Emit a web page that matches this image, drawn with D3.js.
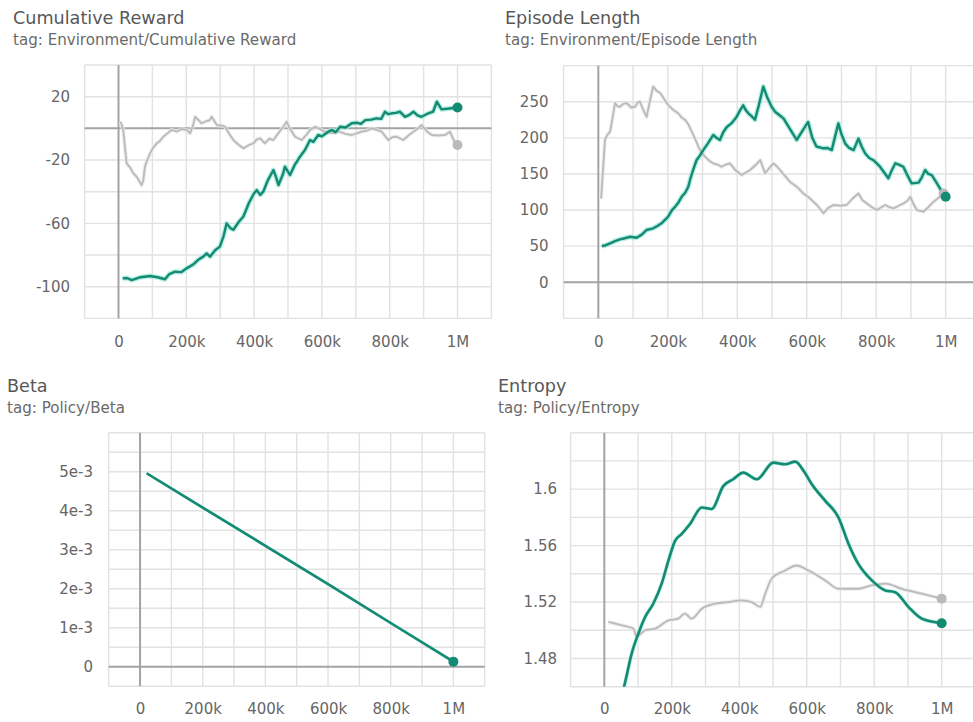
<!DOCTYPE html>
<html>
<head>
<meta charset="utf-8">
<script src="https://cdn.jsdelivr.net/npm/d3@7"></script>
<style>
  html, body { margin: 0; padding: 0; background: #fff; }
  svg { display: block; }
  text { font-family: "DejaVu Sans", "Noto Sans", sans-serif; }
</style>
</head>
<body>
<svg id="board" width="973" height="722"></svg>
<script>
// ---- Cumulative Reward (Environment/Cumulative Reward) ----
const rewardTrain = [
  [12e3,-94.7],[25e3,-94.5],[39e3,-95.8],[65e3,-94],[93e3,-93.2],[115e3,-94],[137e3,-95.3],[150e3,-92],
  [167e3,-90.5],[185e3,-90.8],[201e3,-88.4],[220e3,-86],[235e3,-83],[250e3,-81],[260e3,-79],[270e3,-81],
  [285e3,-77],[299e3,-74.7],[310e3,-68],[319e3,-60],[330e3,-63],[339e3,-64],[355e3,-59],[368e3,-55.8],
  [385e3,-47],[400e3,-41],[408e3,-39],[418e3,-42],[427e3,-40],[440e3,-33],[457e3,-26.3],[465e3,-31],
  [472e3,-35.8],[485e3,-29],[491e3,-24.2],[506e3,-29.5],[520e3,-23],[535e3,-18],[550e3,-13.7],[565e3,-7.4],
  [575e3,-8.5],[589e3,-4.2],[600e3,-5],[619e3,-2.1],[630e3,-1],[640e3,-2.5],[654e3,1],[670e3,0.5],
  [688e3,3.2],[705e3,3.5],[715e3,2.8],[728e3,5.2],[745e3,5.5],[761e3,6.3],[775e3,6],[786e3,10.5],
  [795e3,9],[806e3,9.5],[818e3,9.8],[830e3,10.5],[845e3,7.3],[858e3,8.5],[870e3,10.5],[882e3,8.2],
  [894e3,7.3],[914e3,9.5],[928e3,10.5],[939e3,16.8],[953e3,12],[975e3,12.5],[1000e3,13.2]
];
const rewardBaseline = [
  [5e3,4.2],[10e3,2],[14e3,-1],[20e3,-14],[24e3,-22],[35e3,-25],[44e3,-28.4],[55e3,-31],[68e3,-35.8],
  [73e3,-33],[78e3,-24.2],[85e3,-20],[93e3,-15.8],[103e3,-12],[113e3,-9.5],[122e3,-8],[132e3,-5.3],
  [145e3,-3],[157e3,-1],[172e3,-2],[185e3,-0.5],[201e3,-1],[211e3,-3.2],[220e3,2],[226e3,7.3],[235e3,5.5],
  [245e3,3.2],[258e3,4.5],[268e3,5],[275e3,7.3],[290e3,2.1],[305e3,1.8],[315e3,1],[325e3,-3],[339e3,-7.4],
  [355e3,-10.5],[369e3,-12.6],[385e3,-10.5],[398e3,-9.5],[408e3,-7],[418e3,-6.3],[432e3,-9.5],[445e3,-6.5],
  [457e3,-7.4],[470e3,-3.5],[486e3,1],[496e3,4.2],[505e3,0],[521e3,-5.3],[540e3,-7.4],[555e3,-4],[565e3,-1],
  [580e3,1],[595e3,-0.5],[609e3,-2.1],[630e3,-3],[650e3,-2],[670e3,-3.5],[688e3,-4.2],[705e3,-3],
  [717e3,-2.1],[732e3,-1.5],[747e3,0],[762e3,-1],[776e3,-2.1],[796e3,-7.4],[808e3,-5.5],[821e3,-5.3],
  [840e3,-7.4],[855e3,-4.5],[870e3,-2.1],[884e3,0],[894e3,2.1],[910e3,-2],[924e3,-4.2],[945e3,-4.5],
  [963e3,-4.2],[978e3,-2.1],[990e3,-8],[1000e3,-10.5]
];
const rewardTicks = [20, -20, -60, -100];

// ---- Episode Length (Environment/Episode Length) ----
const lengthTrain = [
  [10e3,50.2],[20e3,51],[34e3,54],[48e3,57],[62e3,59.5],[76e3,61],[91e3,63],[110e3,61.7],[125e3,66],
  [139e3,72.4],[158e3,74.7],[170e3,78],[182e3,81.7],[201e3,90.8],[212e3,100],[221e3,104.6],[230e3,110],
  [240e3,118.5],[250e3,124],[259e3,132.3],[266e3,145],[273e3,155.5],[283e3,169.3],[292e3,175],[302e3,183],
  [315e3,192],[331e3,204],[340e3,200],[350e3,197],[360e3,208],[370e3,215],[383e3,220],[398e3,229],
  [408e3,238],[417e3,245],[425e3,238],[432e3,234],[441e3,230],[451e3,225],[462e3,245],[475e3,271],
  [487e3,255],[499e3,243],[509e3,236],[520e3,232],[533e3,227],[552e3,212],[571e3,197],[588e3,210],
  [604e3,222],[616e3,200],[628e3,188],[648e3,185.5],[660e3,186],[672e3,183],[691e3,220],[700e3,205],
  [711e3,192],[722e3,186],[735e3,183],[749e3,199],[758e3,188],[768e3,178.6],[780e3,172],[792e3,169],
  [811e3,160],[823e3,152],[835e3,144],[845e3,155],[855e3,164.7],[865e3,163],[878e3,160],[890e3,148],
  [902e3,137],[922e3,138],[931e3,145],[941e3,155.5],[950e3,150],[960e3,148.5],[975e3,137],[989e3,125.4],
  [1000e3,118.5]
];
const lengthBaseline = [
  [8e3,116],[14e3,160],[19e3,197],[26e3,204],[34e3,208.5],[40e3,225],[48e3,248],[55e3,244],[62e3,243],
  [72e3,247],[82e3,248],[94e3,242],[106e3,243],[113e3,249],[120e3,250],[130e3,238],[139e3,229],[148e3,250],
  [158e3,271],[168e3,265],[178e3,262],[188e3,255],[197e3,248],[206e3,243],[216e3,238.5],[230e3,234],
  [240e3,228],[250e3,224.7],[260e3,218],[269e3,208.5],[280e3,197],[288e3,187.7],[297e3,180],[307e3,174],
  [320e3,168],[331e3,164.7],[343e3,163],[355e3,160],[367e3,163],[379e3,164.7],[395e3,155],[413e3,148.5],
  [425e3,152],[437e3,155.5],[452e3,162],[466e3,169.3],[480e3,151],[492e3,158],[504e3,164.7],[515e3,160],
  [523e3,155.5],[538e3,147],[552e3,139],[571e3,132.3],[590e3,123],[605e3,118],[619e3,111.6],[633e3,105],
  [648e3,95.5],[662e3,103],[677e3,107],[696e3,106],[715e3,107],[732e3,116],[749e3,123],[760e3,114],
  [773e3,109],[788e3,104],[802e3,100],[815e3,104],[826e3,107],[838e3,104],[850e3,102.4],[865e3,106],
  [878e3,109],[890e3,113],[898e3,118.5],[908e3,108],[917e3,100],[936e3,97.7],[950e3,104],[965e3,111.6],
  [980e3,117],[994e3,123]
];
const lengthTicks = [0, 50, 100, 150, 200, 250];

// ---- Beta (Policy/Beta) ----
const betaTrain = [
  [21e3,4.96e-3],[200e3,4.08e-3],[400e3,3.1e-3],[600e3,2.12e-3],[800e3,1.12e-3],[1000e3,0.13e-3]
];
const betaTicks = [0, 1e-3, 2e-3, 3e-3, 4e-3, 5e-3];
const betaTickLabels = ["0", "1e-3", "2e-3", "3e-3", "4e-3", "5e-3"];

// ---- Entropy (Policy/Entropy) ----
const entropyTrain = [
  [50e3,1.452],[61e3,1.4624],[81e3,1.4835],[101e3,1.4977],[121e3,1.5094],[145e3,1.5188],[170e3,1.533],
  [190e3,1.5494],[210e3,1.5635],[229e3,1.5682],[254e3,1.5753],[289e3,1.587],[318e3,1.5859],[353e3,1.6023],
  [382e3,1.607],[412e3,1.6117],[452e3,1.607],[501e3,1.6188],[536e3,1.6176],[566e3,1.6195],[591e3,1.6129],
  [615e3,1.6035],[655e3,1.5917],[694e3,1.58],[724e3,1.5612],[753e3,1.547],[793e3,1.5353],[833e3,1.5282],
  [862e3,1.527],[902e3,1.5164],[941e3,1.5082],[1000e3,1.505]
];
const entropyBaseline = [
  [12e3,1.5059],[52e3,1.5035],[86e3,1.5012],[96e3,1.4953],[110e3,1.498],[121e3,1.5],[151e3,1.5012],
  [190e3,1.507],[219e3,1.5082],[239e3,1.5118],[259e3,1.5082],[289e3,1.5153],[328e3,1.5188],[368e3,1.52],
  [407e3,1.5212],[437e3,1.52],[462e3,1.5165],[477e3,1.5259],[496e3,1.5365],[536e3,1.5423],[570e3,1.5459],
  [605e3,1.5423],[655e3,1.5353],[694e3,1.5294],[753e3,1.5294],[793e3,1.5318],[833e3,1.533],[882e3,1.5294],
  [941e3,1.5259],[1000e3,1.5224]
];
const entropyTicks = [1.48, 1.52, 1.56, 1.6];

// Shared step axis
const stepTicks = [0, 200e3, 400e3, 600e3, 800e3, 1000e3];
const stepTickLabels = ["0", "200k", "400k", "600k", "800k", "1M"];

const TEAL = "#138a71";
const TEAL_HALO = "#a6eadd";
const GREY = "#bababa";
const GREY_HALO = "#e8e8e8";
const FONT = "'DejaVu Sans', 'Noto Sans', sans-serif";

const svg = d3.select("#board");

function drawCard(cfg) {
  const g = svg.append("g");

  // Heading
  g.append("text").attr("x", cfg.titleX).attr("y", cfg.titleY)
    .attr("font-size", 17.6).attr("fill", "#585858").text(cfg.title);
  g.append("text").attr("x", cfg.titleX).attr("y", cfg.titleY + 21)
    .attr("font-size", 15.1).attr("fill", "#6a6a6a").text(cfg.tag);

  const x = d3.scaleLinear().domain([-100e3, 1100e3]).range([cfg.x0, cfg.x1]);
  const y = d3.scaleLinear().domain(cfg.yDomain).range([cfg.yBottom, cfg.yTop]);
  const right = Math.min(cfg.x1, 973);

  const clipId = "clip-" + cfg.id;
  g.append("clipPath").attr("id", clipId).append("rect")
    .attr("x", cfg.x0).attr("y", cfg.yTop).attr("width", right - cfg.x0).attr("height", cfg.yBottom - cfg.yTop);

  // Grid
  const grid = g.append("g").attr("stroke", "#e2e2e2").attr("stroke-width", 1.4);
  d3.range(-100e3, 1100e3 + 1, 100e3).forEach(s => {
    if (s === 0) return;
    grid.append("line").attr("x1", x(s)).attr("x2", x(s)).attr("y1", cfg.yTop).attr("y2", cfg.yBottom);
  });
  d3.range(cfg.yDomain[0], cfg.yDomain[1] + cfg.gridStep / 2, cfg.gridStep).forEach(v => {
    if (Math.abs(v) < cfg.gridStep / 100) return;
    grid.append("line").attr("x1", cfg.x0).attr("x2", right).attr("y1", y(v)).attr("y2", y(v));
  });

  // Zero lines
  const axisCol = "#a3a3a3";
  g.append("line").attr("x1", x(0)).attr("x2", x(0)).attr("y1", cfg.yTop).attr("y2", cfg.yBottom)
    .attr("stroke", axisCol).attr("stroke-width", 2);
  if (cfg.yDomain[0] < 0) {
    g.append("line").attr("x1", cfg.x0).attr("x2", right).attr("y1", y(0)).attr("y2", y(0))
      .attr("stroke", axisCol).attr("stroke-width", 2);
  }

  // Tick labels
  const yAxis = d3.axisLeft(y).tickValues(cfg.yTicks).tickSize(0).tickPadding(0)
    .tickFormat((d, i) => cfg.yLabels ? cfg.yLabels[i] : String(d));
  const ya = g.append("g").attr("transform", `translate(${cfg.yLabelX},0)`).call(yAxis);
  ya.select(".domain").remove();
  ya.selectAll("text").attr("font-size", 15).attr("fill", "#666").attr("font-family", FONT);

  const xAxis = d3.axisBottom(x).tickValues(stepTicks).tickSize(0).tickPadding(0)
    .tickFormat((d, i) => stepTickLabels[i]);
  const xa = g.append("g").attr("transform", `translate(0,${cfg.xLabelY})`).call(xAxis);
  xa.select(".domain").remove();
  xa.selectAll("text").attr("font-size", 15).attr("fill", "#666").attr("font-family", FONT)
    .attr("dy", "0.35em");

  // Series
  const plot = g.append("g").attr("clip-path", `url(#${clipId})`);
  const line = d3.line().x(d => x(d[0])).y(d => y(d[1])).curve(cfg.curve || d3.curveLinear);
  cfg.series.forEach(s => {
    plot.append("path").attr("d", line(s.data)).attr("fill", "none")
      .attr("stroke", s.halo).attr("stroke-width", s.haloWidth).attr("stroke-linejoin", "round").attr("opacity", 0.8);
  });
  cfg.series.forEach(s => {
    plot.append("path").attr("d", line(s.data)).attr("fill", "none")
      .attr("stroke", s.color).attr("stroke-width", s.width).attr("stroke-linejoin", "round");
  });
  cfg.series.forEach(s => {
    const last = s.data[s.data.length - 1];
    g.append("circle").attr("cx", x(last[0])).attr("cy", y(last[1])).attr("r", 5).attr("fill", s.color);
  });
}

drawCard({
  id: "reward", title: "Cumulative Reward", tag: "tag: Environment/Cumulative Reward",
  titleX: 13, titleY: 24,
  x0: 84.6, x1: 491.4, yTop: 65, yBottom: 318.4, yDomain: [-120, 40], gridStep: 20,
  yTicks: rewardTicks, yLabelX: 70, xLabelY: 342,
  series: [
    { data: rewardBaseline, color: GREY, width: 1.8, halo: GREY_HALO, haloWidth: 4 },
    { data: rewardTrain, color: TEAL, width: 2.4, halo: TEAL_HALO, haloWidth: 5 }
  ]
});

drawCard({
  id: "length", title: "Episode Length", tag: "tag: Environment/Episode Length",
  titleX: 505, titleY: 24,
  x0: 563.6, x1: 980.4, yTop: 65.6, yBottom: 318.4, yDomain: [-50, 300], gridStep: 50,
  yTicks: lengthTicks, yLabelX: 548.5, xLabelY: 342,
  series: [
    { data: lengthBaseline, color: GREY, width: 1.8, halo: GREY_HALO, haloWidth: 4 },
    { data: lengthTrain, color: TEAL, width: 2.4, halo: TEAL_HALO, haloWidth: 5 }
  ]
});

drawCard({
  id: "beta", title: "Beta", tag: "tag: Policy/Beta",
  titleX: 7, titleY: 392,
  x0: 108.7, x1: 484.7, yTop: 432.7, yBottom: 686.2, yDomain: [-0.5e-3, 6e-3], gridStep: 0.5e-3,
  yTicks: betaTicks, yLabels: betaTickLabels, yLabelX: 93, xLabelY: 709,
  series: [
    { data: betaTrain, color: TEAL, width: 2.6, halo: TEAL_HALO, haloWidth: 3 }
  ]
});

drawCard({
  id: "entropy", title: "Entropy", tag: "tag: Policy/Entropy",
  titleX: 498, titleY: 392,
  x0: 570.6, x1: 975.4, yTop: 432.7, yBottom: 686.7, yDomain: [1.46, 1.64], gridStep: 0.02,
  yTicks: entropyTicks, yLabelX: 557, xLabelY: 709,
  curve: d3.curveMonotoneX,
  series: [
    { data: entropyBaseline, color: GREY, width: 1.8, halo: GREY_HALO, haloWidth: 4 },
    { data: entropyTrain, color: TEAL, width: 2.6, halo: TEAL_HALO, haloWidth: 4 }
  ]
});
</script>
</body>
</html>
